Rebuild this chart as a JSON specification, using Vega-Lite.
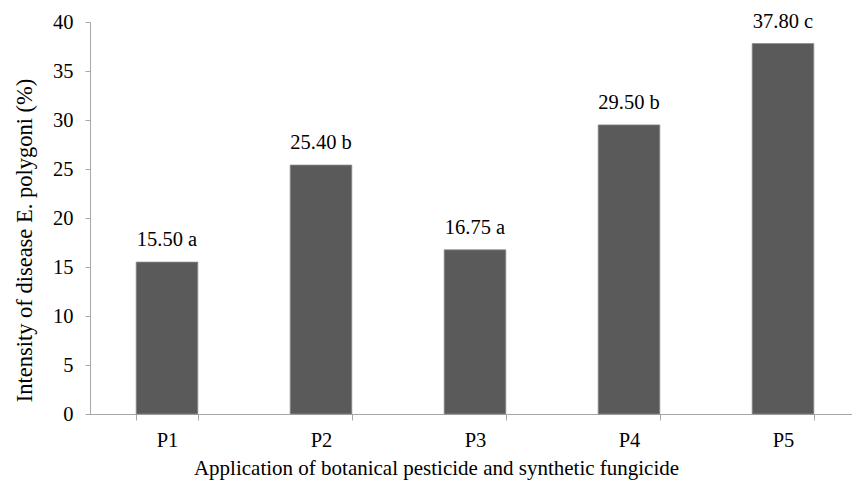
{
  "$schema": "https://vega.github.io/schema/vega-lite/v6.json",
  "autosize": {"type": "none"},
  "width": 762,
  "height": 392,
  "padding": {"left": 90, "top": 22, "right": 0, "bottom": 67},
  "background": "white",
  "config": {
    "view": {"stroke": null},
    "font": "Liberation Serif",
    "axis": {
      "labelFont": "Liberation Serif",
      "titleFont": "Liberation Serif",
      "labelColor": "black",
      "titleColor": "black",
      "labelFontSize": 20.5,
      "titleFontSize": 21,
      "titleFontWeight": "normal",
      "domainColor": "#a6a6a6",
      "tickColor": "#a6a6a6",
      "grid": false
    }
  },
  "data": {
    "values": [
      {"treatment": "P1", "intensity": 15.5, "label": "15.50 a"},
      {"treatment": "P2", "intensity": 25.4, "label": "25.40 b"},
      {"treatment": "P3", "intensity": 16.75, "label": "16.75 a"},
      {"treatment": "P4", "intensity": 29.5, "label": "29.50 b"},
      {"treatment": "P5", "intensity": 37.8, "label": "37.80 c"}
    ]
  },
  "encoding": {
    "x": {
      "field": "treatment",
      "type": "nominal",
      "sort": null,
      "scale": {"range": [0, 770], "paddingInner": 0.6, "paddingOuter": 0.3},
      "axis": {
        "title": "Application of botanical pesticide and synthetic fungicide",
        "labelAngle": 0,
        "tickBand": "extent",
        "tickSize": 6,
        "labelPadding": 10,
        "titlePadding": 7,
        "titleX": 346,
        "titleAnchor": null
      }
    },
    "y": {
      "field": "intensity",
      "type": "quantitative",
      "scale": {"domain": [0, 40], "nice": false},
      "axis": {
        "title": "Intensity of disease E. polygoni (%)",
        "titleFontSize": 22.5,
        "values": [0, 5, 10, 15, 20, 25, 30, 35, 40],
        "tickSize": 5,
        "labelPadding": 12,
        "titlePadding": 16,
        "titleY": 218,
        "titleAnchor": null
      }
    }
  },
  "layer": [
    {"mark": {"type": "bar", "color": "#5a5a5a", "stroke": "#8c8c8c", "strokeWidth": 0.8}},
    {
      "mark": {"type": "text", "baseline": "alphabetic", "dy": -16, "fontSize": 20.5, "font": "Liberation Serif", "color": "black"},
      "encoding": {"text": {"field": "label"}}
    }
  ]
}
